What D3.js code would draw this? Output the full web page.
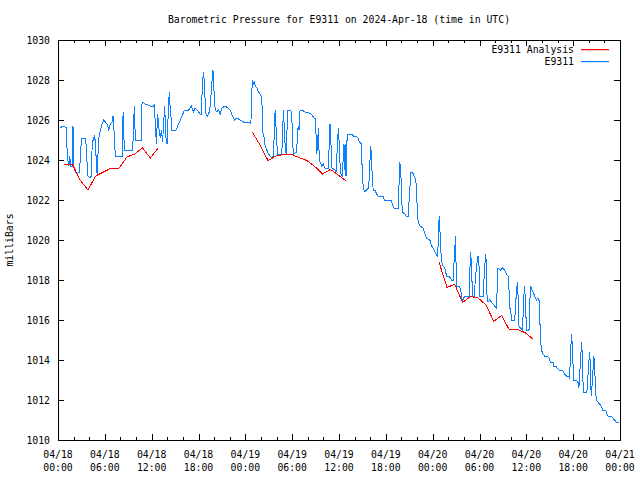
<!DOCTYPE html>
<html>
<head>
<meta charset="utf-8">
<script src="https://cdn.jsdelivr.net/npm/d3@7"></script>
<style>
  body { margin: 0; background: #fff; }
  text { font-family: "DejaVu Sans Mono", "Liberation Mono", monospace; font-size: 9.8px; fill: #000; }
</style>
</head>
<body>
<svg id="chart" width="640" height="480"></svg>
<script>
// hours after 2024-04-18 00:00 UTC, pressure in mbar
const obs18 = [
  [0.32,1025.6],[0.61,1025.7],[1.09,1025.6],[1.18,1024.2],[1.38,1023.7],[1.51,1024.2],[1.60,1023.7],[1.82,1023.7],
  [1.88,1025.7],[1.96,1025.6],[2.02,1023.7],[2.07,1023.6],[2.24,1023.4],[2.46,1023.3],[2.75,1023.4],[3.01,1025.1],
  [3.52,1025.1],[3.61,1024.7],[3.81,1023.2],[4.07,1023.1],[4.28,1023.2],[4.37,1024.7],[4.54,1025.1],[4.71,1025.2],
  [4.80,1024.7],[5.01,1023.3],[5.22,1025.1],[5.44,1025.5],[5.65,1025.8],[5.86,1026.0],[6.07,1025.9],[6.29,1025.8],
  [6.50,1025.5],[6.71,1025.8],[6.91,1025.9],[7.06,1026.2],[7.14,1025.7],[7.35,1024.2],[8.21,1024.2],[8.34,1026.4],
  [8.50,1024.5],[9.57,1024.5],[9.78,1026.7],[9.91,1025.0],[10.26,1025.0],[10.64,1025.0],[10.77,1026.9],[11.19,1026.8],
  [11.83,1026.7],[12.25,1026.7],[12.34,1026.8],[12.60,1024.8],[12.76,1026.3],[12.98,1025.4],[13.11,1025.1],[13.24,1025.5],
  [13.40,1024.9],[13.66,1026.7],[13.84,1025.1],[13.97,1024.8],[14.17,1026.8],[14.26,1027.4],[14.39,1026.5],[14.52,1026.0],
  [14.60,1025.5],[15.12,1025.5],[15.45,1025.8],[15.88,1026.2],[16.22,1026.5],[16.52,1026.5],[16.73,1026.5],[17.07,1026.7],
  [17.37,1026.4],[17.58,1026.6],[17.80,1026.5],[18.01,1026.4],[18.22,1026.3],[18.35,1026.3],[18.52,1027.9],[18.65,1028.4],
  [18.74,1027.9],[18.86,1026.9],[18.95,1026.3],[19.16,1026.2],[19.37,1026.4],[19.50,1026.7],[19.72,1027.9],[19.85,1028.5],
  [20.02,1027.2],[20.14,1026.5],[20.36,1026.4],[20.56,1026.5],[20.78,1026.3],[21.00,1026.6],[21.42,1026.7],[21.77,1026.6],
  [22.06,1026.5],[22.36,1026.2],[22.61,1026.0],[22.92,1026.1],[23.34,1026.0],[23.76,1025.9]
];
const obs19 = [
  [24.62,1025.9],[24.71,1025.8],[24.84,1027.5],[24.91,1028.0],[25.04,1027.8],[25.17,1027.9],[25.26,1027.7],[25.48,1027.6],
  [25.68,1027.4],[25.90,1027.3],[26.11,1027.1],[26.24,1025.4],[26.41,1025.1],[26.54,1024.7],[26.75,1024.5],[26.96,1024.3],
  [27.18,1024.2],[27.39,1024.1],[27.60,1024.2],[27.82,1026.5],[28.03,1024.9],[28.11,1024.3],[28.67,1024.3],[28.88,1026.5],
  [29.09,1024.8],[29.22,1024.3],[29.44,1026.5],[29.73,1026.5],[29.95,1026.4],[30.03,1025.0],[30.16,1024.3],[30.59,1024.4],
  [30.67,1025.4],[30.80,1025.7],[30.89,1025.5],[31.01,1026.5],[31.23,1026.5],[31.65,1026.4],[31.87,1026.4],[32.38,1026.3],
  [32.64,1026.2],[32.80,1026.1],[33.02,1026.1],[33.10,1024.3],[33.23,1024.5],[33.35,1025.6],[33.48,1024.0],[33.57,1023.9],
  [33.79,1023.7],[33.99,1023.8],[34.21,1023.6],[34.63,1023.6],[34.85,1025.8],[34.94,1025.2],[35.07,1023.6],[35.49,1023.5],
  [35.62,1023.4],[35.91,1025.6],[36.00,1025.0],[36.12,1023.9],[36.26,1023.3],[36.42,1023.2],[36.64,1024.8],[36.73,1023.5],
  [36.81,1024.8],[36.90,1023.2],[36.98,1024.8],[37.11,1025.3],[37.63,1025.3],[37.83,1025.2],[38.05,1025.2],[38.47,1025.1],
  [38.60,1024.9],[38.81,1024.9],[39.02,1023.2],[39.11,1022.6],[39.32,1022.4],[39.75,1022.6],[39.88,1023.1],[40.05,1024.7],
  [40.18,1024.2],[40.26,1023.0],[40.39,1022.5],[40.60,1022.5],[40.82,1022.3],[41.03,1022.2],[41.24,1022.2],[41.46,1022.2],
  [41.67,1022.2],[41.79,1022.0],[42.65,1022.0],[42.82,1021.8],[43.04,1021.6],[43.58,1021.6],[43.80,1023.9],[43.93,1023.2],
  [44.02,1022.5],[44.10,1021.4],[44.44,1021.3],[44.57,1021.2],[44.86,1021.2],[45.21,1023.4],[45.43,1023.4],[45.50,1023.3],
  [45.72,1023.1],[45.85,1023.0],[45.94,1022.2],[46.14,1020.9],[46.36,1020.7],[46.78,1020.6],[47.00,1020.3],[47.22,1020.1],
  [47.64,1020.0],[47.85,1019.7]
];
const obs20 = [
  [48.06,1019.6],[48.28,1019.4],[48.41,1019.3],[48.57,1019.2],[48.70,1019.7],[48.83,1021.2],[48.92,1020.6],[49.05,1019.5],
  [49.13,1018.9],[49.34,1018.7],[49.56,1018.6],[49.78,1018.2],[49.98,1018.2],[50.29,1018.1],[50.42,1018.0],[50.62,1018.0],
  [50.84,1019.6],[50.93,1020.2],[51.05,1017.7],[51.39,1017.7],[51.60,1017.5],[51.82,1016.9],[51.99,1017.1],[52.11,1017.2],
  [52.41,1017.2],[52.66,1017.2],[52.85,1019.4],[52.97,1018.8],[53.10,1017.2],[53.31,1017.2],[53.61,1018.7],[53.82,1019.2],
  [53.94,1018.7],[54.03,1017.2],[54.46,1017.2],[54.67,1018.7],[54.80,1019.3],[54.89,1018.7],[54.97,1017.1],[55.10,1016.9],
  [55.31,1017.0],[55.53,1016.9],[55.74,1016.8],[55.95,1016.7],[56.17,1016.6],[56.37,1018.6],[56.68,1018.5],[56.94,1018.6],
  [57.23,1018.5],[57.45,1018.3],[57.65,1018.2],[57.78,1017.5],[57.87,1016.6],[58.00,1016.5],[58.09,1016.0],[58.38,1016.0],
  [58.51,1016.0],[58.73,1017.4],[58.86,1017.9],[58.93,1017.3],[59.06,1015.7],[59.24,1015.6],[59.50,1015.5],[59.75,1017.7],
  [59.88,1017.1],[60.01,1015.5],[60.34,1015.5],[60.52,1017.7],[60.85,1017.4],[61.07,1017.2],[61.29,1017.0],[61.49,1017.1],
  [61.62,1017.0],[61.71,1016.3],[61.80,1015.2],[61.93,1014.5],[62.13,1014.3],[62.35,1014.2],[62.64,1014.2],[62.90,1014.1],
  [63.07,1013.9],[63.41,1013.9],[63.53,1013.7],[63.75,1013.7],[63.92,1013.6],[64.18,1013.5],[64.61,1013.5],[64.91,1013.3],
  [65.12,1013.2],[65.33,1013.2],[65.54,1013.1],[65.71,1014.7],[65.80,1015.3],[65.89,1014.7],[66.06,1013.0],[66.40,1013.0],
  [66.61,1012.9],[66.73,1012.6],[66.99,1014.3],[67.08,1014.9],[67.17,1014.2],[67.25,1013.0],[67.33,1012.4],[67.76,1012.4],
  [68.01,1013.9],[68.10,1014.4],[68.19,1013.9],[68.31,1012.2],[68.45,1012.9],[68.65,1014.2],[68.74,1013.7],[68.87,1012.6],
  [68.96,1012.0],[69.16,1011.9],[69.38,1011.8],[69.60,1011.7],[69.80,1011.5],[70.15,1011.5],[70.31,1011.3],[70.44,1011.2],
  [70.88,1011.2],[71.08,1011.1],[71.30,1011.0],[71.52,1010.9],[71.85,1010.9]
];
// analysis runs
const ana18 = [
  [0.83,1023.8],[1.83,1023.8],[2.83,1023.0],[3.83,1022.5],[4.83,1023.2],[5.83,1023.4],[6.83,1023.6],
  [7.83,1023.6],[8.83,1024.15],[9.83,1024.3],[10.83,1024.6],[11.83,1024.1],[12.83,1024.6]
];
const ana19 = [
  [24.91,1025.38],[25.91,1024.73],[26.91,1023.97],[27.91,1024.2],[28.91,1024.28],[29.91,1024.28],[30.91,1024.12],
  [31.91,1023.97],[32.91,1023.67],[33.91,1023.3],[34.91,1023.53],[35.91,1023.25],[36.91,1022.95]
];
const ana20 = [
  [48.83,1018.87],[49.83,1017.63],[50.83,1017.78],[51.83,1016.88],[52.83,1017.17],[53.83,1017.1],[54.83,1016.75],
  [55.83,1015.93],[56.83,1016.23],[57.83,1015.5],[58.83,1015.53],[59.83,1015.37],[60.83,1015.05]
];
const yTicks = [1010, 1012, 1014, 1016, 1018, 1020, 1022, 1024, 1026, 1028, 1030];
const title = "Barometric Pressure for E9311 on 2024-Apr-18 (time in UTC)";
const yLabel = "milliBars";
const seriesNames = ["E9311 Analysis", "E9311"];
const seriesColors = ["#ff0000", "#0b80ff"];

const t0 = Date.UTC(2024, 3, 18);
const toDate = h => new Date(t0 + h * 3600e3);

const svg = d3.select("#chart");
const plotL = 58, plotR = 620, plotT = 40, plotB = 440;

const x = d3.scaleUtc().domain([toDate(0), toDate(72)]).range([plotL, plotR]);
const y = d3.scaleLinear().domain([1010, 1030]).range([plotB, plotT]);

const majors = d3.utcHour.every(6).range(toDate(0), toDate(72.1));
const minors = d3.utcHour.every(2).range(toDate(0), toDate(72.1)).filter(d => d.getUTCHours() % 6 !== 0);

// ticks, pointing inward
function styleAxis(g) {
  g.select(".domain").remove();
  g.selectAll("line").attr("stroke", "#000").attr("shape-rendering", "crispEdges");
}
svg.append("g").attr("transform", `translate(0,${plotB})`)
  .call(d3.axisBottom(x).tickValues(majors).tickSize(-6).tickFormat(""))
  .call(styleAxis);
svg.append("g").attr("transform", `translate(0,${plotB})`)
  .call(d3.axisBottom(x).tickValues(minors).tickSize(-3).tickFormat(""))
  .call(styleAxis);
svg.append("g").attr("transform", `translate(0,${plotT})`)
  .call(d3.axisTop(x).tickValues(majors).tickSize(-6).tickFormat(""))
  .call(styleAxis);
svg.append("g").attr("transform", `translate(0,${plotT})`)
  .call(d3.axisTop(x).tickValues(minors).tickSize(-3).tickFormat(""))
  .call(styleAxis);
const yAxisG = svg.append("g").attr("transform", `translate(${plotL},0)`)
  .call(d3.axisLeft(y).tickValues(yTicks).tickSize(-6).tickPadding(8).tickFormat(d3.format("d")))
  .call(styleAxis);
yAxisG.attr("font-size", null).attr("font-family", null);
yAxisG.selectAll("text").attr("fill", "#000");
svg.append("g").attr("transform", `translate(${plotR},0)`)
  .call(d3.axisRight(y).tickValues(yTicks).tickSize(-6).tickFormat(""))
  .call(styleAxis);

// two-line time labels
const fmtDay = d3.utcFormat("%m/%d"), fmtTime = d3.utcFormat("%H:%M");
const xl = svg.append("g").selectAll("text").data(majors).join("text")
  .attr("text-anchor", "middle")
  .attr("transform", d => `translate(${x(d)},0)`);
xl.append("tspan").attr("x", 0).attr("y", 458).text(fmtDay);
xl.append("tspan").attr("x", 0).attr("y", 471).text(fmtTime);

// frame
svg.append("rect").attr("x", plotL).attr("y", plotT).attr("width", plotR - plotL).attr("height", plotB - plotT)
  .attr("fill", "none").attr("stroke", "#000").attr("shape-rendering", "crispEdges");

const line = d3.line().x(d => x(toDate(d[0]))).y(d => y(d[1]));

svg.append("path").datum(obs18.concat(obs19, obs20))
  .attr("d", line).attr("fill", "none").attr("stroke", seriesColors[1]).attr("stroke-width", 1)
  .attr("shape-rendering", "crispEdges");

[ana18, ana19, ana20].forEach(run => {
  svg.append("path").datum(run)
    .attr("d", line).attr("fill", "none").attr("stroke", seriesColors[0]).attr("stroke-width", 1)
    .attr("shape-rendering", "crispEdges");
});

// title and axis label
svg.append("text").attr("x", (plotL + plotR) / 2).attr("y", 23).attr("text-anchor", "middle").text(title);
svg.append("text").attr("transform", "translate(13,240) rotate(-90)").attr("text-anchor", "middle").text(yLabel);

// legend
const legend = svg.append("g");
[50, 62].forEach((ly, i) => {
  legend.append("text").attr("x", 574).attr("y", ly).attr("dy", "0.35em").attr("text-anchor", "end").text(seriesNames[i]);
  legend.append("rect").attr("x", 581).attr("y", ly - 1).attr("width", 28).attr("height", 1.2)
    .attr("fill", seriesColors[i]);
});
</script>
</body>
</html>
